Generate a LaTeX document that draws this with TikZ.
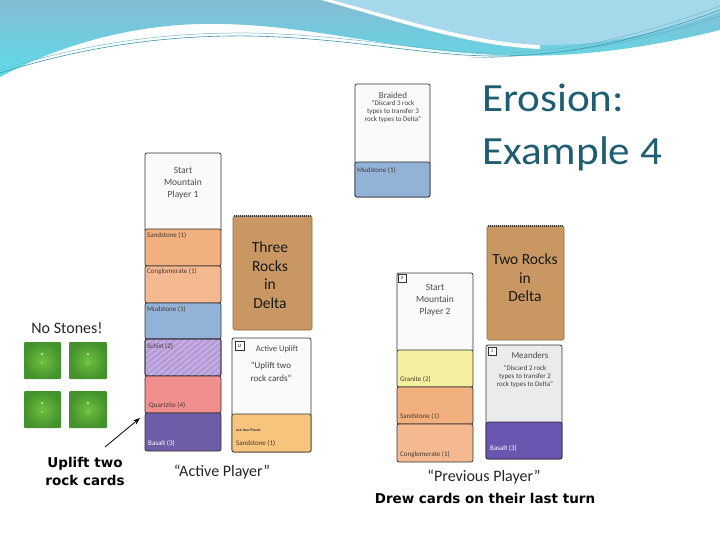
\documentclass[tikz,border=0pt]{standalone}
\usepackage{fontspec}
\usepackage{graphicx}
\setmainfont{Carlito}
\newfontfamily\dvs{DejaVu Sans}
\usetikzlibrary{arrows.meta}
\definecolor{hdrtop}{HTML}{84BCD4}
\definecolor{hdrbot}{HTML}{5CDDE8}
\definecolor{hdrright}{HTML}{A4D8EA}
\definecolor{hdrline}{HTML}{3A96AE}
\definecolor{titlec}{HTML}{1F5E72}
\definecolor{cardw}{HTML}{FAFAFA}
\definecolor{sand}{HTML}{F2B07E}
\definecolor{sandb}{HTML}{F7C47E}
\definecolor{cong}{HTML}{F4B990}
\definecolor{mud}{HTML}{92B2D8}
\definecolor{schist}{HTML}{B59CD8}
\definecolor{schistl}{HTML}{C9B6E6}
\definecolor{quartz}{HTML}{F18E8E}
\definecolor{basalt}{HTML}{6F5CA8}
\definecolor{basalt2}{HTML}{6A55B0}
\definecolor{granite}{HTML}{F4F0A0}
\definecolor{delta}{HTML}{C99862}
\definecolor{deltab}{HTML}{8A6A45}
\definecolor{meangr}{HTML}{EBEBEE}
\definecolor{gin}{HTML}{70C040}
\definecolor{gout}{HTML}{44922C}
\definecolor{inkc}{HTML}{4A3A30}
\begin{document}
\begin{tikzpicture}[x=1pt,y=-1pt,
  sec/.style={draw=black!80,line width=0.7pt,rounded corners=2pt},
  lab/.style={font=\fontsize{7}{8}\selectfont,inner sep=0pt,anchor=west,text=inkc},
  hand/.style={font=\fontsize{9.5}{12}\selectfont,inner sep=0pt,align=center,text=black!70},
  quote/.style={font=\fontsize{7}{8}\selectfont,inner sep=0pt,align=center,text=black!75},
  deltatxt/.style={font=\fontsize{15.5}{18.5}\selectfont,inner sep=0pt,align=center,text=black!90},
  caption/.style={font=\fontsize{16}{19}\selectfont,inner sep=0pt,anchor=base,text=black!85},
  boldlab/.style={font=\dvs\bfseries\fontsize{13.5}{18}\selectfont,inner sep=0pt,align=center,text=black},
  icon/.style={draw=black!80,line width=0.5pt,fill=white},
  gsq/.style={inner color=gin,outer color=gout,rounded corners=1pt}]
\useasboundingbox (0,0) rectangle (720,540);
\fill[white] (0,0) rectangle (720,540);
% header
\shade[top color=hdrtop,bottom color=hdrbot] (0,0) -- (720,0) -- (720,30)
  .. controls (640,50) and (560,60) .. (480,54)
  .. controls (380,48) and (300,22) .. (200,24)
  .. controls (120,26) and (50,50) .. (0,77) -- cycle;
\draw[white,line width=8pt] (322,-4) .. controls (400,18) and (470,42) .. (540,45);
\fill[hdrright] (332,0) -- (720,0) -- (720,12)
  .. controls (660,34) and (600,46) .. (540,45)
  .. controls (470,42) and (400,18) .. (332,0) -- cycle;
\draw[hdrline,line width=0.6pt] (0,73) .. controls (80,48) and (160,35) .. (250,36)
  .. controls (350,38) and (420,55) .. (490,56) .. controls (580,57) and (660,32) .. (720,10);
\draw[hdrline!70,line width=0.5pt] (0,70) .. controls (80,45) and (160,32) .. (250,33)
  .. controls (350,35) and (420,51) .. (490,53) .. controls (580,54) and (660,28) .. (720,6);
\draw[hdrline!80,line width=0.4pt] (470,58) .. controls (580,56) and (660,36) .. (720,16);
% title
\node[anchor=base west,inner sep=0pt,text=titlec,font=\fontsize{40}{48}\selectfont] (title1) at (482,112) {\scalebox{1.08}[1]{Erosion:}};
\node[anchor=base west,inner sep=0pt,text=titlec,font=\fontsize{40}{48}\selectfont] (title2) at (482,165) {\scalebox{1.08}[1]{Example 4}};
% ---------------- Player 1 column
\draw[sec,fill=cardw] (145,153) rectangle (221,232);
\node[hand] (p1start) at (183,183) {Start\\Mountain\\Player 1};
\draw[sec,fill=sand] (145,229) rectangle (221,266);
\node[lab] (p1sand) at (147,235) {Sandstone (1)};
\draw[sec,fill=cong] (145,266) rectangle (221,303);
\node[lab] (p1cong) at (147,272) {Conglomerate (1)};
\draw[sec,fill=mud] (145,303) rectangle (221,339);
\node[lab] (p1mud) at (147,309) {Mudstone (1)};
\draw[sec,fill=schist] (145,339) rectangle (221,376);
\begin{scope}
  \clip (146,340) rectangle (220,375);
  \foreach \k in {0,7,...,120}{
    \draw[schistl,line width=1.2pt] (100+\k,376) -- (145+\k,339);
  }
\end{scope}
\draw[sec] (145,339) rectangle (221,376);
\node[lab] (p1sch) at (147,346) {Schist (2)};
\draw[sec,fill=quartz] (145,376) rectangle (221,413);
\node[lab] (p1qua) at (149,405) {Quartzite (4)};
\draw[sec,fill=basalt] (145,413) rectangle (221,451);
\node[lab,text=white] (p1bas) at (148,443) {Basalt (3)};
% Three rocks in delta
\draw[draw=deltab,line width=0.6pt,fill=delta,rounded corners=1.5pt] (233,216) rectangle (312,330);
\draw[black!75,line width=1.6pt,dash pattern=on 1pt off 1pt] (234,216) -- (311,216);
\node[deltatxt] (delta1) at (270,275) {Three\\Rocks\\in\\Delta};
% Active uplift card
\draw[sec,fill=cardw] (232,338) rectangle (311,452);
\draw[icon] (235,341) rectangle (244,350);
\node[font=\fontsize{5}{5}\selectfont,inner sep=0pt] (uic) at (239.5,345.5) {U};
\node[hand,font=\fontsize{8.5}{10}\selectfont] (uptitle) at (277,349) {Active Uplift};
\node[quote,font=\fontsize{9}{13}\selectfont] (upquote) at (271,372) {“Uplift two\\rock cards”};
\draw[sec,fill=sandb] (232,414) rectangle (311,452);
\node[lab,font=\bfseries\fontsize{3.8}{4}\selectfont,text=black!80] (upplanet) at (236,430) {use Your Planet};
\node[lab] (upsand) at (236,443) {Sandstone (1)};
\node[caption] (actcap) at (222,476) {“Active Player”};
% Braided card
\draw[sec,fill=cardw] (355,84) rectangle (430,197);
\node[hand,font=\fontsize{9}{9}\selectfont] (brtitle) at (393,95) {Braided};
\node[quote] (brquote) at (393,112) {“Discard 3 rock\\types to transfer 3\\rock types to Delta”};
\draw[sec,fill=mud] (355,162) rectangle (430,197);
\node[lab] (brmud) at (357,170) {Mudstone (1)};
% ---------------- Player 2 column
\draw[sec,fill=cardw] (397,273) rectangle (473,352);
\draw[icon] (398,274) rectangle (406,282);
\node[font=\fontsize{4.5}{5}\selectfont,inner sep=0pt] (p2ic) at (402,278) {2};
\node[hand] (p2start) at (435,300) {Start\\Mountain\\Player 2};
\draw[sec,fill=granite] (397,350) rectangle (473,387);
\node[lab] (p2gra) at (400,379) {Granite (2)};
\draw[sec,fill=sand] (397,387) rectangle (473,424);
\node[lab] (p2sand) at (400,416) {Sandstone (1)};
\draw[sec,fill=cong] (397,424) rectangle (473,462);
\node[lab] (p2cong) at (400,455) {Conglomerate (1)};
% Two rocks in delta
\draw[draw=deltab,line width=0.6pt,fill=delta,rounded corners=1.5pt] (487,226) rectangle (564,340);
\draw[black!75,line width=1.6pt,dash pattern=on 1pt off 1pt] (488,226) -- (563,226);
\draw[black!45,line width=0.8pt,dash pattern=on 1pt off 1.5pt] (487,228) -- (487,338);
\node[deltatxt] (delta2) at (525,278) {Two Rocks\\in\\Delta};
% Meanders card
\draw[sec,fill=meangr] (486,345) rectangle (562,459);
\draw[icon] (488,347) rectangle (496,355);
\node[font=\fontsize{4.5}{5}\selectfont,inner sep=0pt] (meic) at (492,351) {1};
\node[hand,font=\fontsize{9}{9}\selectfont] (metitle) at (530,355) {Meanders};
\node[quote] (mequote) at (525,377) {“Discard 2 rock\\types to transfer 2\\rock types to Delta”};
\draw[sec,fill=basalt2] (486,422) rectangle (562,459);
\node[lab,text=white] (mebas) at (490,448) {Basalt (3)};
\node[caption] (prevcap) at (484,481) {“Previous Player”};
\node[boldlab,anchor=base] (drew) at (485,503) {Drew cards on their last turn};
% ---------------- No stones
\node[caption,anchor=center] (nostones) at (67,328) {No Stones!};
\shade[gsq] (24,342) rectangle (61,379);
\shade[gsq] (69,342) rectangle (107,379);
\shade[gsq] (24,391) rectangle (61,428);
\shade[gsq] (69,391) rectangle (107,428);
\foreach \cx/\cy in {42/360,88/360,42/409,88/409}{
  \fill[white,opacity=0.75] (\cx,\cy-6) circle (1.1pt);
  \fill[white,opacity=0.4] (\cx,\cy+3) circle (1pt);
}
\node[boldlab] (uplift) at (85,471) {Uplift two\\rock cards};
\coordinate (atail) at (105,447);
\coordinate (ahead) at (140,418);
\draw[-{Stealth[length=7pt,width=5pt]},line width=0.8pt] (atail) -- (ahead);
\end{tikzpicture}
\end{document}
